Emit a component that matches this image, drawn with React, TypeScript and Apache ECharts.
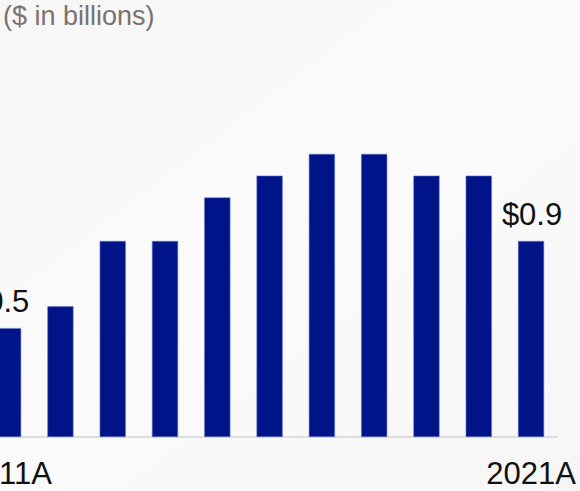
import React, { useEffect, useRef } from "react";
import * as echarts from "echarts";

const categories = ["2011A", "2012A", "2013A", "2014A", "2015A", "2016A", "2017A", "2018A", "2019A", "2020A", "2021A"];
const values = [0.5, 0.6, 0.9, 0.9, 1.1, 1.2, 1.3, 1.3, 1.2, 1.2, 0.9];
const labeledIndexes = [0, 10];
const unitNote = "($ in billions)";

export default function App() {
  const ref = useRef<HTMLDivElement>(null);
  useEffect(() => {
    if (!ref.current) return;
    const chart = echarts.init(ref.current, undefined, { renderer: "svg" });
    const last = categories.length - 1;
    chart.setOption({
      animation: false,
      backgroundColor: new echarts.graphic.LinearGradient(0, 0, 1, 1, [
        { offset: 0, color: "#f6f6f6" },
        { offset: 0.5, color: "#fbfbfb" },
        { offset: 1, color: "#f6f6f6" },
      ]),
      grid: { left: 42, right: 22.8, top: 110.3, bottom: 54, containLabel: false },
      graphic: [
        {
          type: "text",
          left: 63,
          top: 2,
          style: {
            text: unitNote,
            font: '27px "Liberation Sans", Arial, sans-serif',
            fill: "#7d726e",
          },
        },
      ],
      xAxis: {
        type: "category",
        data: categories,
        axisLine: { show: true, lineStyle: { color: "#d4d4d4", width: 1.5 } },
        axisTick: { show: false },
        axisLabel: {
          interval: (i: number) => i === 0 || i === last,
          margin: 21,
          fontSize: 31,
          fontFamily: '"Liberation Sans", Arial, sans-serif',
          color: "#111111",
        },
      },
      yAxis: { type: "value", min: 0, max: 1.5, show: false, splitLine: { show: false } },
      series: [
        {
          type: "bar",
          barWidth: "50%",
          data: values.map((v, i) => ({
            value: v,
            label: labeledIndexes.includes(i)
              ? { show: true, offset: [i === 0 ? -9 : 1, 0] }
              : { show: false },
          })),
          itemStyle: { color: "#00148a", borderColor: "#6677c4", borderWidth: 0.6 },
          label: {
            show: false,
            position: "top",
            distance: 11,
            fontSize: 31,
            fontFamily: '"Liberation Sans", Arial, sans-serif',
            color: "#111111",
            formatter: (p: any) => "$" + Number(p.value).toFixed(1),
          },
        },
      ],
    });
    return () => chart.dispose();
  }, []);
  return (
    <div
      ref={ref}
      style={{ position: "fixed", left: -60, top: 0, width: 640, height: 491 }}
    />
  );
}
